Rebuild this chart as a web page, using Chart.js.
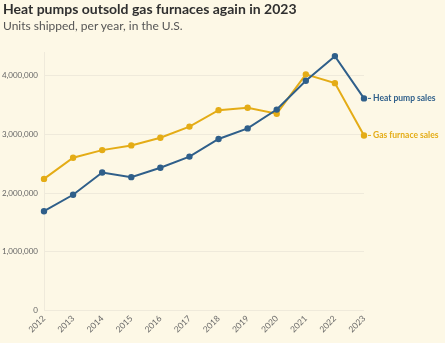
<!DOCTYPE html>
<html>
<head>
<meta charset="utf-8">
<script src="https://cdn.jsdelivr.net/npm/chart.js@4"></script>
<style>
  html, body { margin:0; padding:0; background:#fdf8e6; width:445px; height:343px; overflow:hidden; }
  #wrap { position:relative; width:445px; height:343px; }
  #title { position:absolute; left:3px; top:0px; font-family:Lato, sans-serif; font-weight:700; font-size:14px; color:#2f2f2f; white-space:nowrap; }
  #sub { position:absolute; left:3px; top:18px; font-family:Lato, sans-serif; font-size:12px; color:#555; white-space:nowrap; }
  canvas { position:absolute; left:0; top:0; }
</style>
</head>
<body>
<div id="wrap">
  <canvas id="c" width="445" height="343"></canvas>
  <div id="title">Heat pumps outsold gas furnaces again in 2023</div>
  <div id="sub">Units shipped, per year, in the U.S.</div>
</div>
<script>
const years = ["2012","2013","2014","2015","2016","2017","2018","2019","2020","2021","2022","2023"];
const heatPump = [1690000,1970000,2350000,2270000,2430000,2620000,2920000,3100000,3420000,3910000,4330000,3610000];
const gasFurnace = [2240000,2600000,2730000,2810000,2940000,3130000,3410000,3450000,3350000,4020000,3870000,2980000];
const yTicks = [0,1000000,2000000,3000000,4000000];
const seriesLabels = ["Heat pump sales","Gas furnace sales"];
const blue = "#2f5f8a", gold = "#e4ac16";

const endLabels = {
  id:'endLabels',
  afterDatasetsDraw(chart){
    const ctx = chart.ctx;
    chart.data.datasets.forEach((ds,i)=>{
      const meta = chart.getDatasetMeta(i);
      const pt = meta.data[meta.data.length-1];
      ctx.save();
      ctx.strokeStyle = ds.borderColor;
      ctx.lineWidth = 1;
      ctx.beginPath();
      ctx.moveTo(pt.x+4, pt.y); ctx.lineTo(pt.x+7, pt.y);
      ctx.stroke();
      ctx.fillStyle = ds.borderColor;
      ctx.font = "bold 8.5px Lato, sans-serif";
      ctx.textBaseline = "middle";
      ctx.fillText(ds.label, pt.x+9, pt.y);
      ctx.restore();
    });
  }
};

new Chart(document.getElementById('c'), {
  type:'line',
  data:{
    labels: years,
    datasets:[
      {label:seriesLabels[0], data:heatPump, borderColor:blue, backgroundColor:blue, borderWidth:2, pointRadius:2.2, pointHoverRadius:2.2, tension:0},
      {label:seriesLabels[1], data:gasFurnace, borderColor:gold, backgroundColor:gold, borderWidth:2, pointRadius:2.2, pointHoverRadius:2.2, tension:0}
    ]
  },
  options:{
    responsive:false,
    animation:false,
    layout:{padding:{top:52, right:81, left:0, bottom:0}},
    plugins:{legend:{display:false}, tooltip:{enabled:false}, title:{display:false}},
    scales:{
      x:{
        offset:false,
        grid:{display:false, drawTicks:false},
        border:{display:false},
        ticks:{maxRotation:45, minRotation:45, color:"#666", font:{family:"Lato", size:8.5}, padding:3, autoSkip:false},
        afterFit(s){ s.height = 32.5; }
      },
      y:{
        min:0, max:4400000,
        afterBuildTicks(s){ s.ticks = yTicks.map(v=>({value:v})); },
        grid:{color:"#efeadb", drawTicks:false, lineWidth:1},
        border:{display:true, color:"#efeadb"},
        ticks:{color:"#666", font:{family:"Lato", size:8}, padding:6, callback:v=>v.toLocaleString('en-US')},
        afterFit(s){ s.width = 44; }
      }
    }
  },
  plugins:[endLabels]
});
</script>
</body>
</html>
